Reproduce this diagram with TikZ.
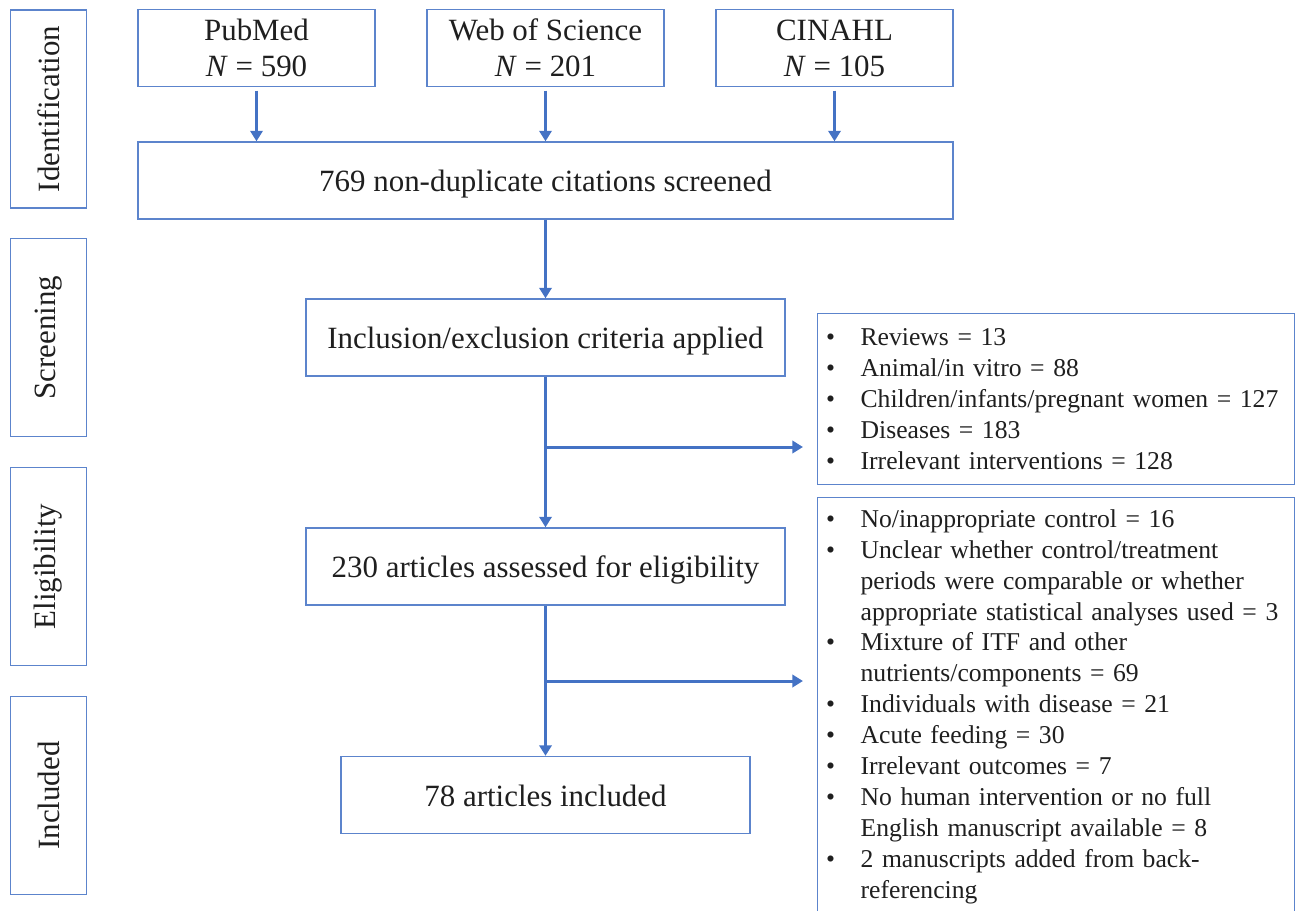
\documentclass[tikz,border=0pt]{standalone}
\usepackage{fontspec}
\setmainfont{Liberation Serif}
\usepackage{tikz}
\usetikzlibrary{arrows.meta,positioning,calc}
\usepackage{xcolor}
\definecolor{flowblue}{RGB}{68,114,196}
\definecolor{boxblue}{RGB}{92,132,204}
\newcommand{\itm}[1]{\makebox[19.6pt][l]{\textbullet}#1}
\newcommand{\cnt}[1]{\makebox[19.6pt]{}#1}

\begin{document}
\begin{tikzpicture}[
    x=0.02cm, y=-0.02cm,
    box/.style={draw=boxblue, line width=0.8pt, fill=white, inner sep=0pt,
                text=black!88, font=\fontsize{17.6}{20.5}\selectfont, align=center},
    stage/.style={box, rotate=90, minimum width=3.96cm, minimum height=1.52cm},
    src/.style={box, minimum width=4.74cm, minimum height=1.54cm,
                execute at begin node={\rule{0pt}{15.5pt}}},
    proc/.style={box, minimum height=1.54cm, text height=17.2pt, text depth=4.2pt},
    excl/.style={box, anchor=north west, font=\fontsize{14.6}{17.6}\selectfont,
                 align=left, inner xsep=0.17cm, text width=9.2cm},
    flow/.style={-{Triangle[length=6pt,width=7pt]}, line width=1.7pt, draw=flowblue}
]
\useasboundingbox (0,0) rectangle (1295,910);
\clip (0,0) rectangle (1295,910);

\node[stage] (idn) at (48.5,109)   {Identification};
\node[stage] (scn) at (48.5,337.5) {Screening};
\node[stage] (elg) at (48.5,566.5) {Eligibility};
\node[stage] (inc) at (48.5,795.5) {Included};

\node[src] (pubmed) at (256.5,48) {PubMed\\\textit{N} = 590};
\node[src] (wos)    at (545.5,48) {Web of Science\\\textit{N} = 201};
\node[src] (cinahl) at (834.5,48) {CINAHL\\\textit{N} = 105};

\node[proc, minimum width=16.3cm] (cites)  at (545.5,180.5) {769 non-duplicate citations screened};
\node[proc, minimum width=9.58cm] (crit)   at (545.5,337.5) {Inclusion/exclusion criteria applied};
\node[proc, minimum width=9.58cm] (assess) at (545.5,566.5) {230 articles assessed for eligibility};
\node[proc, minimum width=8.18cm] (incl)   at (545.5,795)   {78 articles included};

\node[excl, minimum height=3.42cm] (excl1) at (817,313) {%
    \itm{Reviews = 13}\\
    \itm{Animal/in vitro = 88}\\
    \itm{Children/infants/pregnant women = 127}\\
    \itm{Diseases = 183}\\
    \itm{Irrelevant interventions = 128}};
\node[excl, minimum height=8.36cm] (excl2) at (817,497) {%
    \itm{No/inappropriate control = 16}\\
    \itm{Unclear whether control/treatment}\\
    \cnt{periods were comparable or whether}\\
    \cnt{appropriate statistical analyses used = 3}\\
    \itm{Mixture of ITF and other}\\
    \cnt{nutrients/components = 69}\\
    \itm{Individuals with disease = 21}\\
    \itm{Acute feeding = 30}\\
    \itm{Irrelevant outcomes = 7}\\
    \itm{No human intervention or no full}\\
    \cnt{English manuscript available = 8}\\
    \itm{2 manuscripts added from back-}\\
    \cnt{referencing}};

\draw[flow, shorten <=2pt] (pubmed) -- (cites.north -| pubmed);
\draw[flow, shorten <=2pt] (wos) -- (cites.north -| wos);
\draw[flow, shorten <=2pt] (cinahl) -- (cites.north -| cinahl);
\draw[flow] (cites) -- (crit);
\draw[flow] (crit) -- (assess);
\draw[flow] (assess) -- (incl);

\coordinate (br1) at (545.5,447);
\coordinate (br2) at (545.5,681);
\draw[flow, shorten >=8pt] (br1) -- (br1 -| excl1.west);
\draw[flow, shorten >=8pt] (br2) -- (br2 -| excl2.west);
\end{tikzpicture}
\end{document}
